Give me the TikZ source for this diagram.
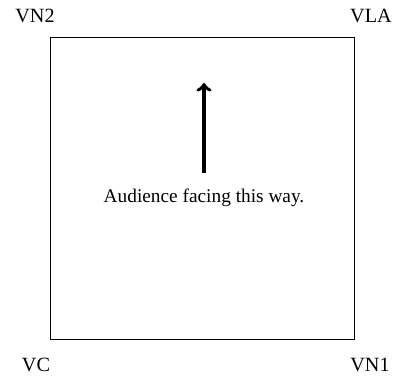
\documentclass[tikz,border=0pt]{standalone}
\usepackage{fontspec}
\setmainfont{Liberation Serif}
\usetikzlibrary{positioning,arrows}
\tikzset{stage/.style={line width=0.5pt}}
\tikzset{facing/.style={->,>=to,line width=2pt}}
\tikzset{corner/.style={font=\fontsize{11.5}{13}\selectfont}}

\begin{document}
\begin{tikzpicture}[x=0.02cm,y=-0.02cm]
  \useasboundingbox (0,0) rectangle (393,376);
  \draw[stage] (50,37) rectangle (354,339);
  \node[corner] (vntwo) at (35,16) {VN2};
  \node[corner] (vla) at (371,16) {VLA};
  \node[corner] (vc) at (36,365) {VC};
  \node[corner] (vnone) at (370,365) {VN1};
  \node[font=\fontsize{11}{13}\selectfont] (aud) at (204,198) {Audience facing this way.};
  \coordinate (head) at (204,83);
  \path (aud.north) ++(0,-10) coordinate (tail);
  \draw[facing] (tail) -- (head);
\end{tikzpicture}
\end{document}
